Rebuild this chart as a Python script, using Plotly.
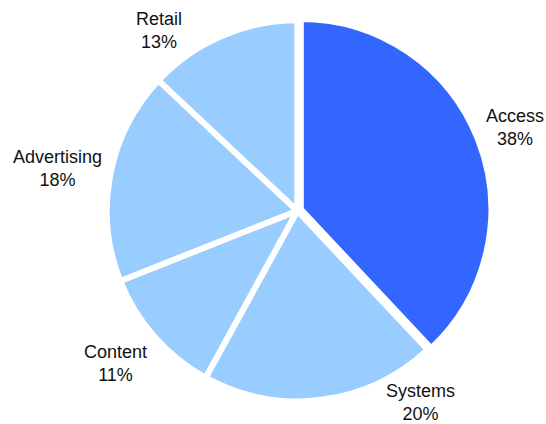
import plotly.graph_objects as go

# Revenue share by segment
segments = ["Access", "Systems", "Content", "Advertising", "Retail"]
shares = [38, 20, 11, 18, 13]
slice_colors = ["#3366ff", "#99ccff", "#99ccff", "#99ccff", "#99ccff"]
pulls = [0.02, 0, 0, 0, 0]

# Label block centres, in pixels from the top-left of the figure
W, H = 546, 424
label_px = {
    "Access": (515, 128),
    "Systems": (420, 402),
    "Content": (115, 363),
    "Advertising": (57, 168),
    "Retail": (159, 30),
}

fig = go.Figure(
    go.Pie(
        labels=segments,
        values=shares,
        sort=False,
        direction="clockwise",
        rotation=0,
        pull=pulls,
        marker=dict(colors=slice_colors, line=dict(color="white", width=6)),
        textinfo="none",
        showlegend=False,
        hoverinfo="label+percent",
        domain=dict(x=[0.1845, 0.9045], y=[0.0446, 0.9611]),
    )
)

total = sum(shares)
for name, val in zip(segments, shares):
    px, py = label_px[name]
    fig.add_annotation(
        x=px / W,
        y=1 - py / H,
        xref="paper",
        yref="paper",
        xanchor="center",
        yanchor="middle",
        text=f"{name}<br>{round(100 * val / total)}%",
        showarrow=False,
        align="center",
        font=dict(family="Liberation Sans, Arial, sans-serif", size=18, color="#111111"),
    )

fig.update_layout(
    width=W,
    height=H,
    margin=dict(l=0, r=0, t=0, b=0),
    paper_bgcolor="white",
    plot_bgcolor="white",
)

fig.write_html("out.html")
